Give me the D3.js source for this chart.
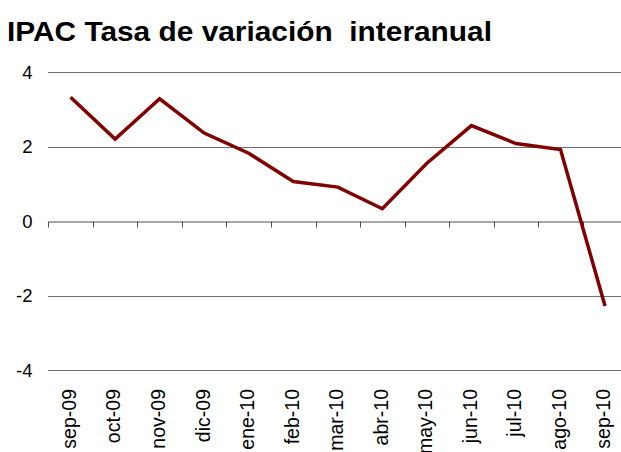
<!DOCTYPE html>
<html><head><meta charset="utf-8">
<script src="https://cdn.jsdelivr.net/npm/d3@7"></script>
<style>body{margin:0;background:#fff}svg{display:block}</style>
</head><body>
<svg id="c" width="621" height="452"></svg>
<script>
const categories = ["sep-09","oct-09","nov-09","dic-09","ene-10","feb-10","mar-10","abr-10","may-10","jun-10","jul-10","ago-10","sep-10"];
const values = [3.32, 2.2, 3.28, 2.36, 1.82, 1.06, 0.91, 0.33, 1.55, 2.56, 2.08, 1.92, -2.28];
const yTicks = [4, 2, 0, -2, -4];
const title = "IPAC Tasa de variación  interanual";

const svg = d3.select("#c");
const font = "'Liberation Sans', Arial, sans-serif";
const x = d3.scaleBand().domain(categories).range([48.3, 627.3]);
const y = d3.scaleLinear().domain([-4, 4]).range([370, 72]);

svg.append("text").attr("x", 7).attr("y", 41)
  .attr("font-family", font).attr("font-weight", "bold").attr("font-size", 27.5)
  .attr("textLength", 485).attr("lengthAdjust", "spacingAndGlyphs")
  .style("white-space", "pre")
  .text(title);

// gridlines
svg.append("g").selectAll("line").data(yTicks.filter(d => d !== 0)).join("line")
  .attr("x1", 48).attr("x2", 621)
  .attr("y1", d => Math.round(y(d)) + 0.5).attr("y2", d => Math.round(y(d)) + 0.5)
  .attr("stroke", "#707070").attr("stroke-width", 1);

// y labels
svg.append("g").selectAll("text").data(yTicks).join("text")
  .attr("x", 32.5).attr("y", d => y(d)).attr("dy", "0.36em")
  .attr("text-anchor", "end").attr("font-family", font).attr("font-size", 18.5)
  .text(d => d);

// x axis at 0
const xAxis = d3.axisBottom(x).tickSize(0).tickFormat("");
const ax = svg.append("g").attr("transform", `translate(0,${Math.round(y(0)) + 0.5})`).call(xAxis);
ax.select(".domain").attr("stroke", "#505050");
const bounds = d3.range(categories.length + 1).map(i => x.range()[0] + i * x.step());
ax.selectAll(".bt").data(bounds).join("line").attr("class", "bt")
  .attr("x1", d => Math.round(d) + 0.5).attr("x2", d => Math.round(d) + 0.5)
  .attr("y1", 0).attr("y2", 6).attr("stroke", "#505050");

// x labels
svg.append("g").selectAll("text").data(categories).join("text")
  .attr("transform", d => `translate(${x(d) + x.bandwidth() / 2 - 1.5},389) rotate(-90)`)
  .attr("dy", "0.35em").attr("text-anchor", "end")
  .attr("font-family", font).attr("font-size", 19.5)
  .text(d => d);

// line
const line = d3.line().x((d, i) => x(categories[i]) + x.bandwidth() / 2).y(d => y(d));
svg.append("path").datum(values).attr("d", line)
  .attr("fill", "none").attr("stroke", "#800000").attr("stroke-width", 3.5)
  .attr("stroke-linejoin", "miter");
</script>
</body></html>
